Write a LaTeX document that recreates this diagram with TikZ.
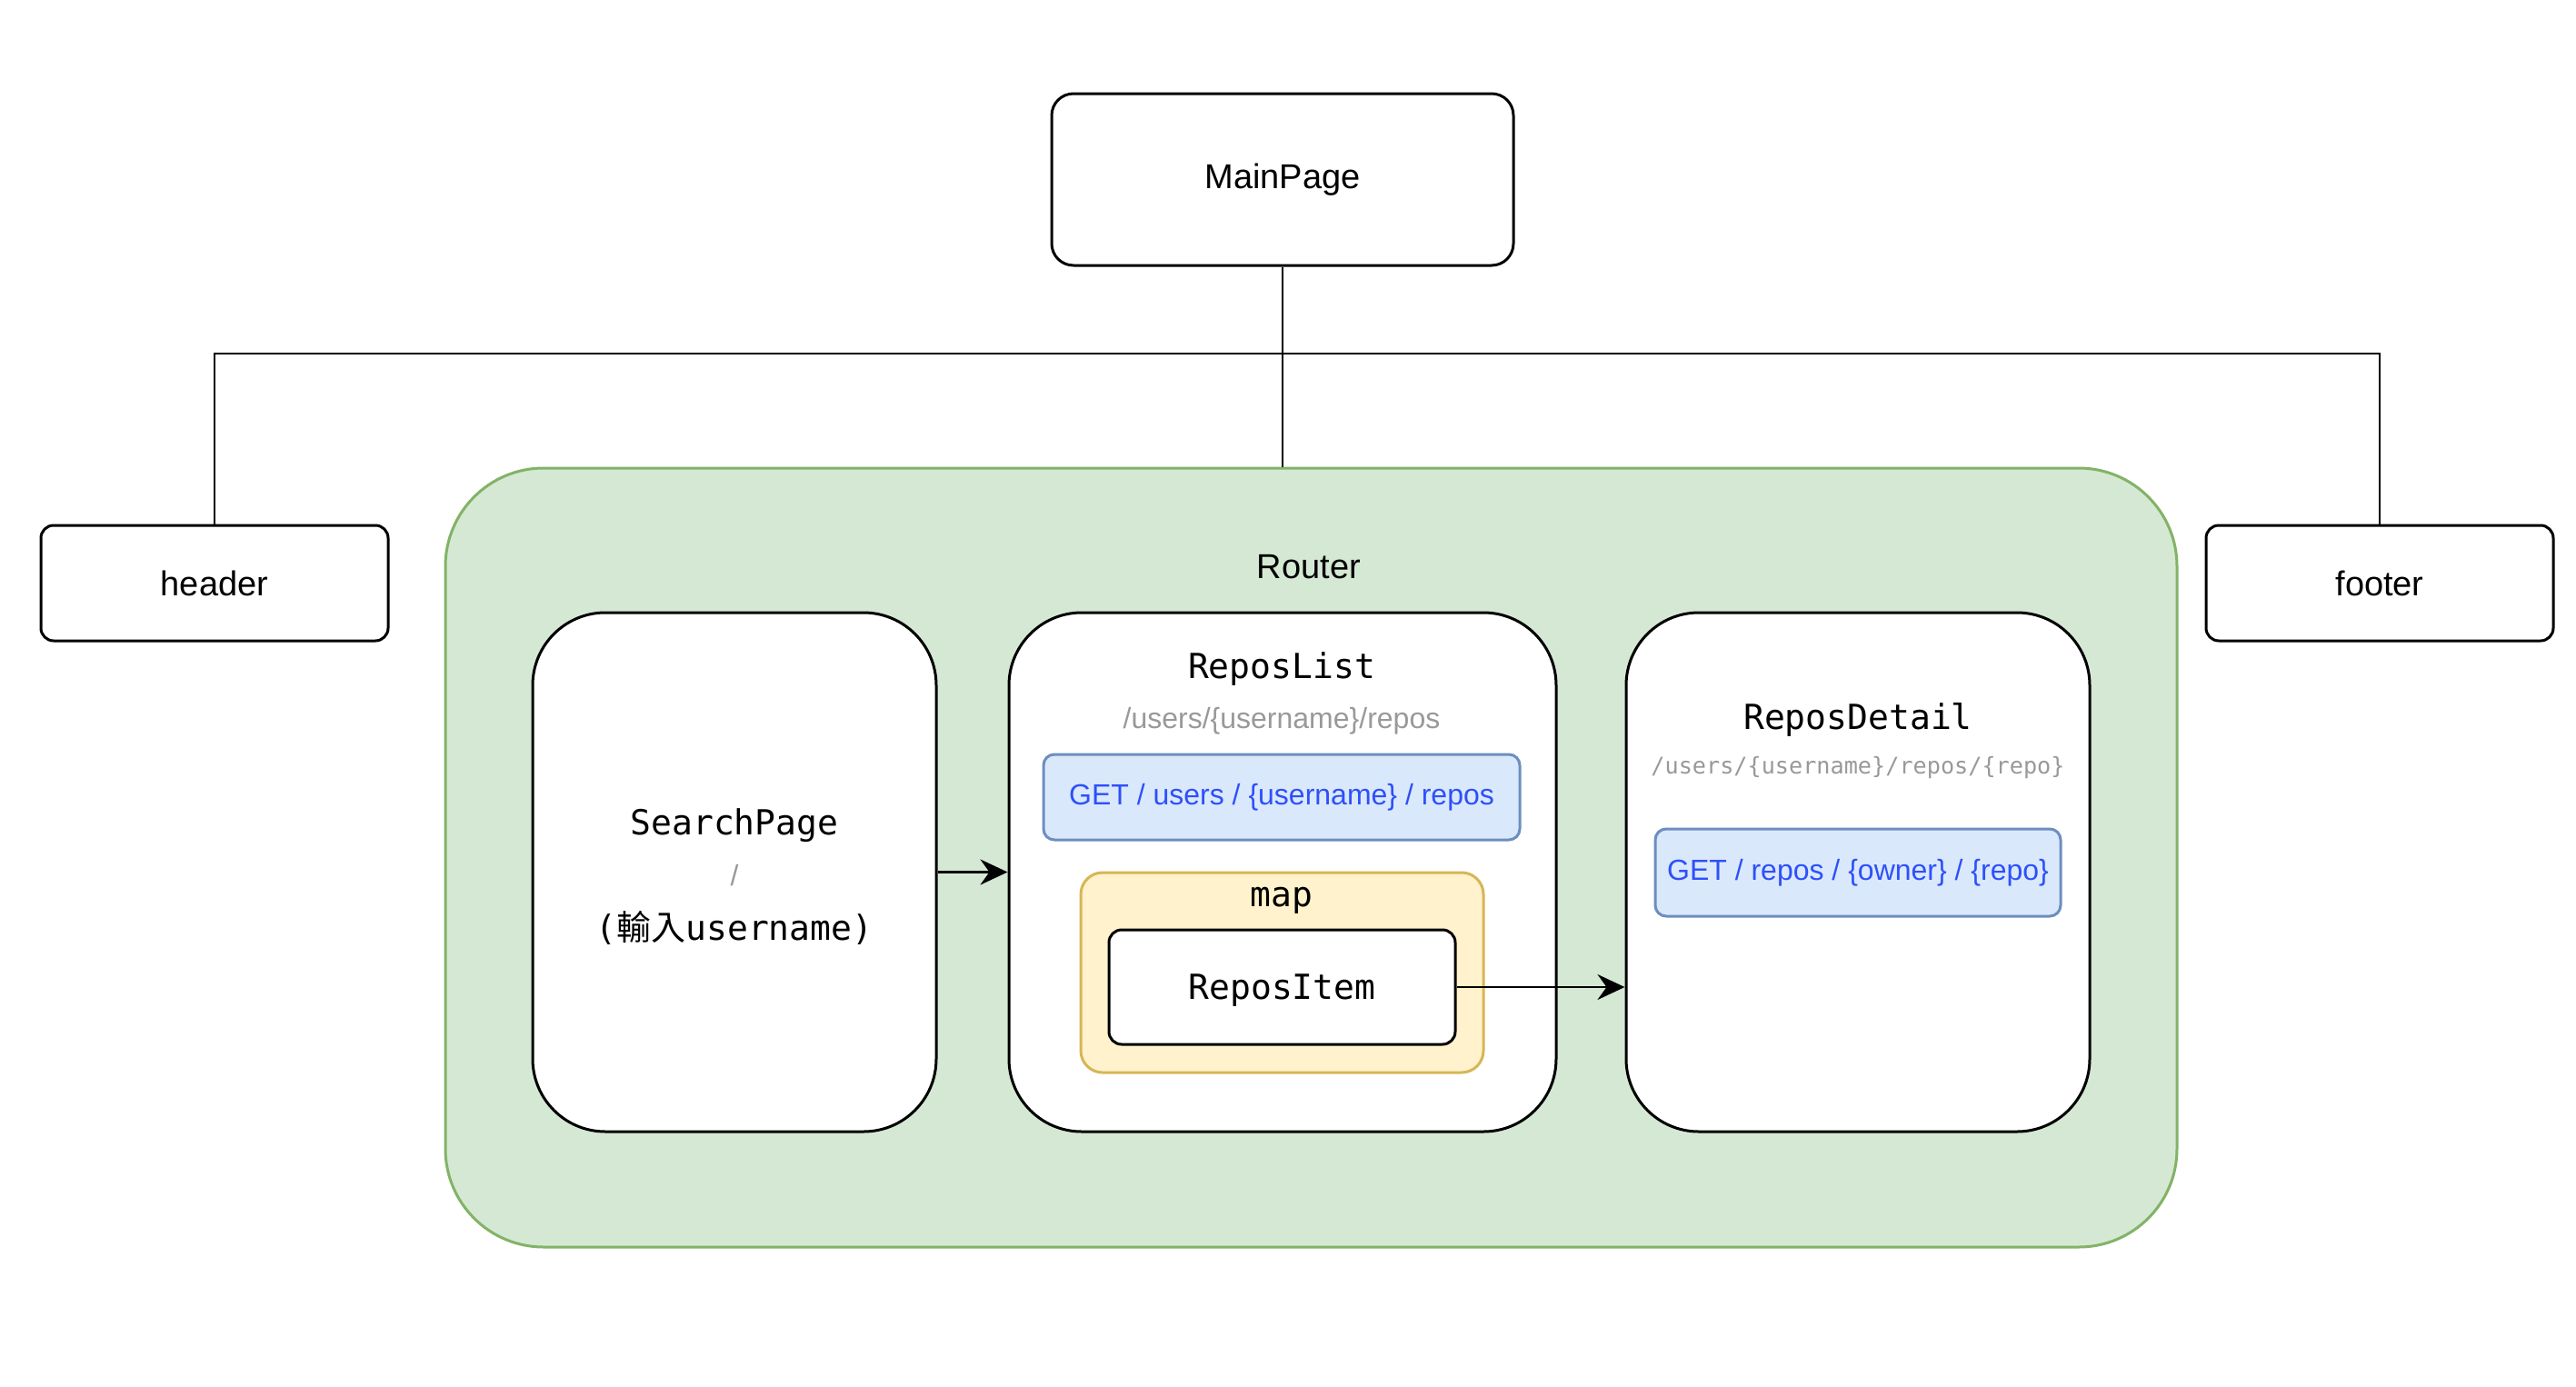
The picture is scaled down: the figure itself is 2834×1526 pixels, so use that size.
\documentclass[tikz,border=0pt]{standalone}
\usepackage{fontspec}
\setmainfont{Liberation Sans}
\setmonofont{DejaVu Sans Mono}
\newfontfamily\cjkfont{Noto Sans CJK TC}
\usetikzlibrary{arrows.meta}
\definecolor{grfill}{HTML}{D5E8D4}
\definecolor{grline}{HTML}{82B366}
\definecolor{blfill}{HTML}{DAE8FC}
\definecolor{blline}{HTML}{6C8EBF}
\definecolor{yefill}{HTML}{FFF2CC}
\definecolor{yeline}{HTML}{D6B656}
\definecolor{bltext}{RGB}{45,80,250}
\definecolor{grtext}{HTML}{999999}
\tikzset{
  box/.style={draw=black, line width=1.5pt, fill=white, rectangle, inner sep=0pt},
  sanslbl/.style={font=\fontsize{19}{23}\selectfont, inner sep=0pt},
  monolbl/.style={font=\ttfamily\fontsize{19}{23}\selectfont, inner sep=0pt, text depth=0pt},
  pathlbl/.style={font=\fontsize{16}{19}\selectfont, text=grtext, inner sep=0pt},
  mpathlbl/.style={font=\ttfamily\fontsize{12.6}{15}\selectfont, text=grtext, inner sep=0pt},
  apibox/.style={draw=blline, fill=blfill, line width=1.5pt, rounded corners=6pt, rectangle, inner sep=0pt,
    text=bltext, font=\fontsize{16}{19}\selectfont},
  conn/.style={draw=black, line width=1.4pt},
  arr/.style={conn, -{Stealth[length=15pt, width=14pt, inset=5pt]}},
}
\begin{document}
\begin{tikzpicture}[x=0.5pt, y=-0.5pt]
\useasboundingbox (0,0) rectangle (2834,1526);
\fill[white] (0,0) rectangle (2834,1526);

% top-level boxes
\node[box, rounded corners=12pt, minimum width=254pt, minimum height=94.5pt, sanslbl] (main) at (1411,197.5) {MainPage};
\node[box, rounded corners=7pt, minimum width=191pt, minimum height=63.5pt, sanslbl] (header) at (236,641.5) {header};
\node[box, rounded corners=7pt, minimum width=191pt, minimum height=63.5pt, sanslbl] (footer) at (2618,641.5) {footer};

% router container
\node[draw=grline, fill=grfill, line width=1.5pt, rounded corners=54pt, rectangle, inner sep=0pt,
  minimum width=952.5pt, minimum height=428.5pt] (router) at (1442.5,943.5) {};
\node[sanslbl] (routerlbl) at (1440,624) {Router};

% SearchPage
\node[box, rounded corners=40pt, minimum width=222pt, minimum height=285.5pt] (search) at (808,959.5) {};
\node[monolbl] (searchlbl) at (808,904) {SearchPage};
\node[pathlbl] (searchpath) at (808,963) {/};
\node[monolbl] (searchin) at (808,1018) {({\cjkfont 輸入}username)};

% ReposList
\node[box, rounded corners=40pt, minimum width=301pt, minimum height=285.5pt] (list) at (1411,959.5) {};
\node[monolbl] (listlbl) at (1410,732) {ReposList};
\node[pathlbl] (listpath) at (1410,793) {/users/\{username\}/repos};
\node[apibox, minimum width=262pt, minimum height=47pt] (listapi) at (1410,877) {GET / users / \{username\} / repos};
\node[draw=yeline, fill=yefill, line width=1.5pt, rounded corners=12pt, rectangle, inner sep=0pt,
  minimum width=221.5pt, minimum height=110pt] (map) at (1410.5,1070) {};
\node[monolbl] (maplbl) at (1410,987) {map};
\node[box, rounded corners=7pt, minimum width=190.5pt, minimum height=63pt, monolbl] (item) at (1410.5,1086) {ReposItem};

% ReposDetail
\node[box, rounded corners=40pt, minimum width=255pt, minimum height=285.5pt] (detail) at (2044,959.5) {};
\node[monolbl] (detaillbl) at (2044,788) {ReposDetail};
\node[mpathlbl] (detailpath) at (2044,845) {/users/\{username\}/repos/\{repo\}};
\node[apibox, minimum width=223pt, minimum height=48pt] (detailapi) at (2044,960) {GET / repos / \{owner\} / \{repo\}};

% connectors
\coordinate (bus) at (1411,389);
\draw[conn] (main.south) -- (main.south |- router.north);
\draw[conn] (header.north) |- (bus) -| (footer.north);
\draw[arr] (search.east) -- (list.west);
\draw[arr] (item.east) -- (item.east -| detail.west);
\end{tikzpicture}
\end{document}
